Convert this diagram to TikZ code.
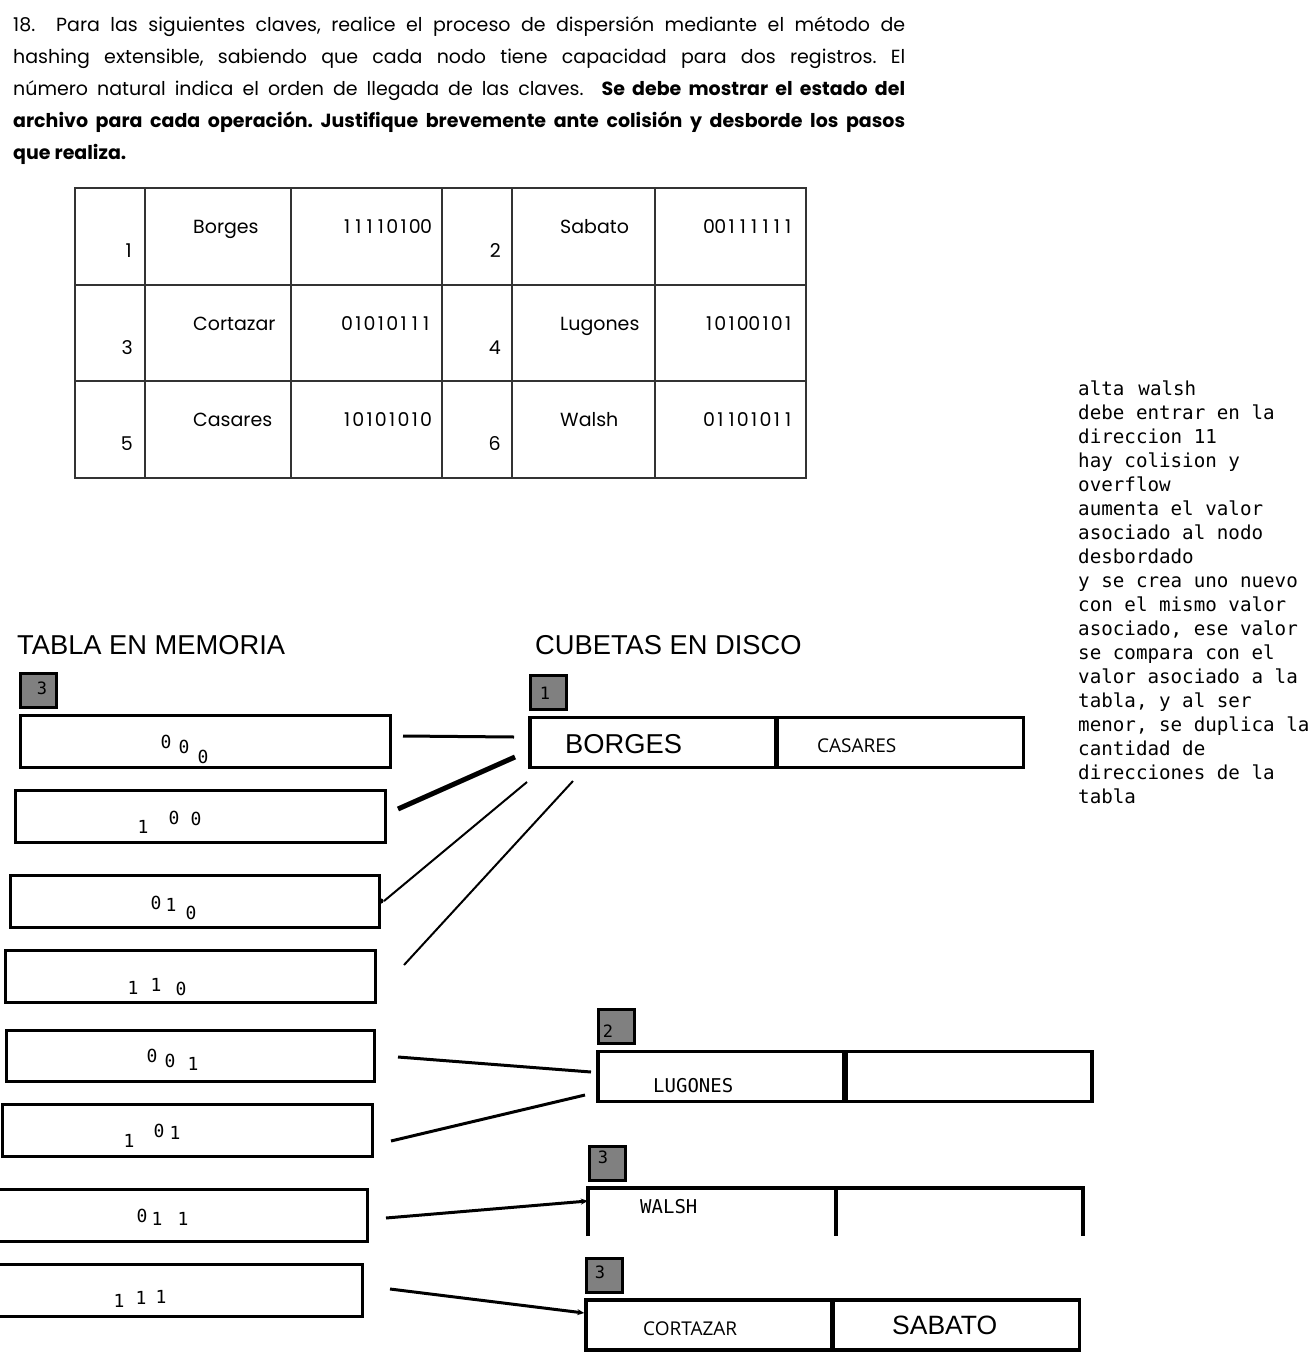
\documentclass[tikz,border=0pt]{standalone}
\usepackage{fontspec}
\setmainfont{Poppins}
\newfontfamily\arialf{Liberation Sans}
\newfontfamily\monof{DejaVu Sans Mono}
\newfontfamily\opensf{Open Sans}
\usetikzlibrary{arrows.meta}
\frenchspacing
\def\binx#1{\ifx#1\relax\else\makebox[11.3pt][c]{#1}\expandafter\binx\fi}
\begin{document}
\begin{tikzpicture}[x=1pt,y=-1pt,
  every node/.style={inner sep=0pt},
  memrect/.style={draw, line width=3pt, minimum height=52pt, minimum width=370pt},
  gbox/.style={draw, fill=gray, line width=3pt, minimum width=36pt, minimum height=34pt},
  cell/.style={draw, line width=3.5pt, minimum height=50pt, minimum width=246pt},
  gnum/.style={font=\monof\fontsize{17}{17}\selectfont},
  dig/.style={font=\monof\fontsize{18}{18}\selectfont},
  link/.style={line width=3pt},
  arr/.style={line width=3pt, -{Stealth[length=7pt,width=6pt]}},
  tline/.style={line width=1.1pt, black!80},
  ttext/.style={font=\fontsize{19}{22}\selectfont},
  para/.style={anchor=base west, font=\fontsize{19}{22}\selectfont},
  bigcap/.style={anchor=west, font=\arialf\fontsize{27.3}{27.3}\selectfont},
  monocap/.style={anchor=west, font=\monof\fontsize{19}{19}\selectfont},
  sanscap/.style={anchor=west, font=\opensf\fontsize{19}{19}\selectfont}
]
\useasboundingbox (0,0) rectangle (1312,1370);
\fill[white] (0,0) rectangle (1312,1370);

% ---------- statement ----------
\node[para] (p1) at (13,32) {\makebox[892pt][s]{18.\ \ Para las siguientes claves, realice el proceso de dispersión mediante el método de}};
\node[para] (p2) at (13,64) {\makebox[892pt][s]{hashing extensible, sabiendo que cada nodo tiene capacidad para dos registros. El}};
\node[para] (p3) at (13,96) {\makebox[892pt][s]{número natural indica el orden de llegada de las claves.\ \ \textbf{Se debe mostrar el estado del}}};
\node[para] (p4) at (13,128) {\makebox[892pt][s]{\textbf{archivo para cada operación. Justifique brevemente ante colisión y desborde los pasos}}};
\node[para] (p5) at (13,160) {\textbf{que realiza.}};

% ---------- keys table ----------
\draw[tline] (75,188) rectangle (806,478);
\foreach \yy in {285,381} \draw[tline] (75,\yy) -- (806,\yy);
\foreach \xx in {145,291,442,512,655} \draw[tline] (\xx,188) -- (\xx,478);

\node[ttext, anchor=base east] (n1) at (132,257) {1};
\node[ttext, anchor=base west] (k1) at (193,233) {Borges};
\node[ttext, anchor=base east] (c1) at (432,233) {\binx11110100\relax};
\node[ttext, anchor=base east] (n2) at (501,257) {2};
\node[ttext, anchor=base west] (k2) at (560,233) {Sabato};
\node[ttext, anchor=base east] (c2) at (794,233) {\binx00111111\relax};

\node[ttext, anchor=base east] (n3) at (133,354) {3};
\node[ttext, anchor=base west] (k3) at (193,330) {Cortazar};
\node[ttext, anchor=base east] (c3) at (432,330) {\binx01010111\relax};
\node[ttext, anchor=base east] (n4) at (501,354) {4};
\node[ttext, anchor=base west] (k4) at (560,330) {Lugones};
\node[ttext, anchor=base east] (c4) at (794,330) {\binx10100101\relax};

\node[ttext, anchor=base east] (n5) at (133,450) {5};
\node[ttext, anchor=base west] (k5) at (193,426) {Casares};
\node[ttext, anchor=base east] (c5) at (432,426) {\binx10101010\relax};
\node[ttext, anchor=base east] (n6) at (501,450) {6};
\node[ttext, anchor=base west] (k6) at (560,426) {Walsh};
\node[ttext, anchor=base east] (c6) at (794,426) {\binx01101011\relax};

% ---------- note ----------
\node[anchor=north west, align=left, font=\monof\fontsize{19.2}{24}\selectfont] (note) at (1078,381)
{alta\hspace{14pt}walsh\\debe entrar en la\\direccion 11\\hay colision y\\overflow\\aumenta el valor\\asociado al nodo\\desbordado\\y se crea uno nuevo\\con el mismo valor\\asociado, ese valor\\se compara con el\\valor asociado a la\\tabla, y al ser\\menor, se duplica la\\cantidad de\\direcciones de la\\tabla};

% ---------- headings ----------
\node[bigcap] (h1) at (17,645) {TABLA EN MEMORIA};
\node[bigcap] (h2) at (535,645) {CUBETAS EN DISCO};

% ---------- memory table ----------
\node[gbox] (gm) at (38.5,690.5) {};
\node[gnum] at (42,688) {3};

\node[memrect] (m1) at (205.5,741.5) {};
\node[memrect] (m2) at (200.5,816.5) {};
\node[memrect, minimum width=369pt] (m3) at (195,901.5) {};
\node[memrect] (m4) at (190.5,976.5) {};
\node[memrect, minimum width=368pt, minimum height=51pt] (m5) at (190.5,1056) {};
\node[memrect] (m6) at (187,1130.5) {};
\node[memrect] (m7) at (182,1215.5) {};
\node[memrect] (m8) at (177.5,1290) {};
\fill (381,901) circle (2.6pt);

\node[dig] at (166,742) {0}; \node[dig] at (184,747) {0}; \node[dig] at (203,757) {0};
\node[dig] at (143,827) {1}; \node[dig] at (174,818) {0}; \node[dig] at (196,819) {0};
\node[dig] at (156,903) {0}; \node[dig] at (171,905) {1}; \node[dig] at (191,913) {0};
\node[dig] at (133,988) {1}; \node[dig] at (156,985) {1}; \node[dig] at (181,989) {0};
\node[dig] at (152,1056) {0}; \node[dig] at (170,1061) {0}; \node[dig] at (193,1064) {1};
\node[dig] at (129,1141) {1}; \node[dig] at (159,1131) {0}; \node[dig] at (175,1133) {1};
\node[dig] at (142,1216) {0}; \node[dig] at (157,1219) {1}; \node[dig] at (183,1219) {1};
\node[dig] at (119,1301) {1}; \node[dig] at (141,1298) {1}; \node[dig] at (161,1297) {1};

% ---------- buckets ----------
\node[gbox] (g1) at (548.5,692.5) {};
\node[gnum] at (545,693) {1};
\node[cell] (b1l) at (653,742.5) {};
\node[cell] (b1r) at (900.5,742.5) {};
\node[bigcap] at (565,744) {BORGES};
\node[sanscap] at (817,746) {CASARES};

\node[gbox] (g2) at (616.5,1026.5) {};
\node[gnum] at (608,1031) {2};
\node[cell] (b2l) at (721,1076.5) {};
\node[cell] (b2r) at (969,1076.5) {};
\node[monocap] at (653,1086) {LUGONES};

\node[gbox] (g3) at (607.5,1163.5) {};
\node[gnum] at (603,1157) {3};
\node[minimum width=495pt, minimum height=48pt] (b3) at (835.5,1212) {};
\draw[line width=3.5pt] (b3.south west) -- (b3.north west) -- (b3.north east) -- (b3.south east);
\draw[line width=3.5pt] (836,1188) -- (836,1236);
\node[monocap] at (640,1207) {WALSH};

\node[gbox] (g4) at (604.5,1275) {};
\node[gnum] at (600,1272) {3};
\node[cell] (b4l) at (709,1325) {};
\node[cell] (b4r) at (956.5,1325) {};
\node[sanscap] at (643,1329) {CORTAZAR};
\node[anchor=west, font=\arialf\fontsize{26.5}{26.5}\selectfont] at (892,1325) {SABATO};

% ---------- pointers ----------
\coordinate (s1) at (403,736); \coordinate (t1) at (514,737);
\coordinate (s2) at (398,809); \coordinate (t2) at (515,757);
\coordinate (s3) at (384,901); \coordinate (t3) at (527,782);
\coordinate (s4) at (404,965); \coordinate (t4) at (573,781);
\coordinate (s5) at (398,1057); \coordinate (t5) at (591,1072);
\coordinate (s6) at (391,1141); \coordinate (t6) at (585,1095);
\coordinate (s7) at (386,1218);
\coordinate (s8) at (390,1289);

\draw[link] (s1) -- (t1);
\draw[line width=5pt] (s2) -- (t2);
\draw[line width=2pt] (s3) -- (t3);
\draw[line width=2pt] (s4) -- (t4);
\draw[link] (s5) -- (t5);
\draw[link] (s6) -- (t6);
\draw[arr] (s7) -- (b3.north west |- 0,1201);
\draw[arr] (s8) -- (b4l.west |- 0,1313);
\end{tikzpicture}
\end{document}
